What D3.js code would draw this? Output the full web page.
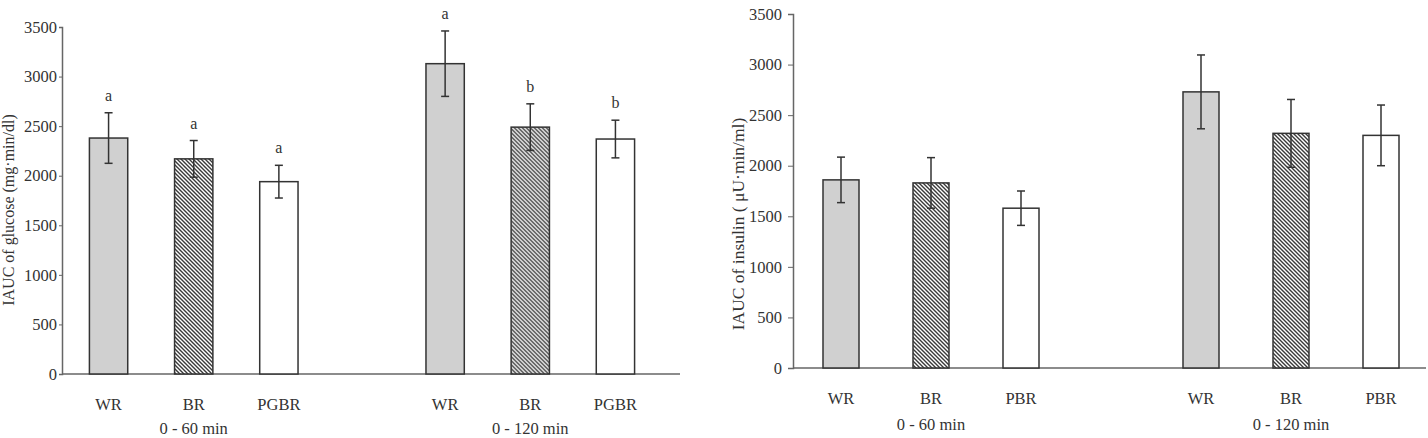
<!DOCTYPE html>
<html lang="en">
<head>
<meta charset="UTF-8">
<title>IAUC glucose / insulin</title>
<script src="https://d3js.org/d3.v7.min.js"></script>
<style>
  body { margin: 0; background: #fff; }
  text { font-family: "Liberation Serif", "DejaVu Serif", serif; fill: #333; }
</style>
</head>
<body>
<script>
// data
const groups = ["0 - 60 min", "0 - 120 min"]
const glucoseCats = ["WR", "BR", "PGBR"]
const insulinCats = ["WR", "BR", "PBR"]
const glucoseMean = [[2380, 2170, 1940], [3130, 2490, 2370]]
const glucoseErr = [[255, 185, 165], [330, 235, 190]]
const glucoseLetters = [["a", "a", "a"], ["a", "b", "b"]]
const insulinMean = [[1860, 1830, 1580], [2730, 2320, 2300]]
const insulinErr = [[225, 250, 170], [365, 335, 300]]
const yTicks = [0, 500, 1000, 1500, 2000, 2500, 3000, 3500]

var svg = d3.select("body").append("svg")
    .attr("width", 1428)
    .attr("height", 438)

// hatch for brown rice
var defs = svg.append("defs")
var pat = defs.append("pattern")
    .attr("id", "hatch")
    .attr("patternUnits", "userSpaceOnUse")
    .attr("width", 4).attr("height", 4)
pat.append("rect").attr("width", 4).attr("height", 4).attr("fill", "#fff")
pat.append("path").attr("d", "M-1,-1 L5,5 M-1,3 L1,5 M3,-1 L5,1")
    .attr("stroke", "#3a3a3a").attr("stroke-width", 1.4)

const fills = ["#d0d0d0", "url(#hatch)", "#ffffff"]

function drawPanel(opt) {
    var g = svg.append("g")

    var y = d3.scaleLinear().domain([0, 3500]).range([opt.y0, opt.y1])
    var outer = d3.scaleBand().domain(groups).range(opt.xRange).paddingInner(opt.gapPad)
    var inner = d3.scaleBand().domain(opt.cats).range([0, outer.bandwidth()])
        .paddingInner(opt.barPad).paddingOuter(opt.barPad / 2)

    // y axis
    var yAxis = g.append("g")
        .attr("transform", "translate(" + opt.axisX + ",0)")
        .call(d3.axisLeft(y).tickValues(yTicks).tickSize(opt.tickLen).tickPadding(opt.tickPad).tickFormat(d3.format("d")))
    yAxis.select(".domain").attr("stroke", "#666").attr("stroke-width", 1.5)
    yAxis.selectAll(".tick line").attr("stroke", "#666")
    yAxis.selectAll("text").style("font-size", "16.5px")
        .style("font-family", '"Liberation Serif", serif').attr("fill", "#333")

    // x baseline
    g.append("line")
        .attr("x1", opt.axisX).attr("x2", opt.xEnd)
        .attr("y1", y(0)).attr("y2", y(0))
        .attr("stroke", "#666").attr("stroke-width", 1.5)

    groups.forEach(function (grp, gi) {
        var gg = g.append("g").attr("transform", "translate(" + outer(grp) + ",0)")
        var rows = opt.cats.map(function (c, i) {
            return { cat: c, i: i, v: opt.mean[gi][i], e: opt.err[gi][i],
                     lab: opt.letters ? opt.letters[gi][i] : null }
        })

        gg.selectAll("rect.bar").data(rows).enter().append("rect")
            .attr("class", "bar")
            .attr("x", d => inner(d.cat))
            .attr("y", d => y(d.v))
            .attr("width", inner.bandwidth())
            .attr("height", d => y(0) - y(d.v))
            .attr("fill", d => fills[d.i])
            .attr("stroke", "#333").attr("stroke-width", 1.5)

        var eb = gg.selectAll("g.err").data(rows).enter().append("g").attr("class", "err")
            .attr("transform", d => "translate(" + (inner(d.cat) + inner.bandwidth() / 2) + ",0)")
        eb.append("line").attr("y1", d => y(d.v + d.e)).attr("y2", d => y(d.v - d.e))
            .attr("stroke", "#333").attr("stroke-width", 1.5)
        eb.append("line").attr("x1", -4).attr("x2", 4)
            .attr("y1", d => y(d.v + d.e)).attr("y2", d => y(d.v + d.e))
            .attr("stroke", "#333").attr("stroke-width", 1.5)
        eb.append("line").attr("x1", -4).attr("x2", 4)
            .attr("y1", d => y(d.v - d.e)).attr("y2", d => y(d.v - d.e))
            .attr("stroke", "#333").attr("stroke-width", 1.5)
        if (opt.letters) {
            eb.append("text").attr("text-anchor", "middle")
                .attr("y", d => y(d.v + d.e) - 12)
                .style("font-size", "16px")
                .text(d => d.lab)
        }

        // category labels
        gg.selectAll("text.cat").data(rows).enter().append("text")
            .attr("class", "cat")
            .attr("x", d => inner(d.cat) + inner.bandwidth() / 2)
            .attr("y", opt.catY)
            .attr("text-anchor", "middle")
            .style("font-size", "16.5px")
            .text(d => d.cat)

        gg.append("text")
            .attr("x", outer.bandwidth() / 2)
            .attr("y", opt.groupY)
            .attr("text-anchor", "middle")
            .style("font-size", "16.5px")
            .text(grp)
    })

    g.append("text")
        .attr("transform", "translate(" + opt.labelX + "," + opt.labelY + ") rotate(-90)")
        .attr("text-anchor", "middle")
        .style("font-size", opt.labelFont + "px")
        .text(opt.yLabel)
}

// glucose panel
drawPanel({
    cats: glucoseCats, mean: glucoseMean, err: glucoseErr, letters: glucoseLetters,
    y0: 374, y1: 27, axisX: 62, xEnd: 680, xRange: [66, 658], gapPad: 0.241, barPad: 0.55,
    tickLen: 3, tickPad: 2, catY: 410, groupY: 434, labelFont: 16,
    labelX: 14, labelY: 210, yLabel: "IAUC of glucose (mg·min/dl)"
})

// insulin panel
drawPanel({
    cats: insulinCats, mean: insulinMean, err: insulinErr, letters: null,
    y0: 368, y1: 14, axisX: 793, xEnd: 1426, xRange: [796, 1426], gapPad: 0.25, barPad: 0.6,
    tickLen: 5, tickPad: 6, catY: 404, groupY: 430, labelFont: 17.5,
    labelX: 744, labelY: 224, yLabel: "IAUC of insulin ( μU·min/ml)"
})
</script>
</body>
</html>
